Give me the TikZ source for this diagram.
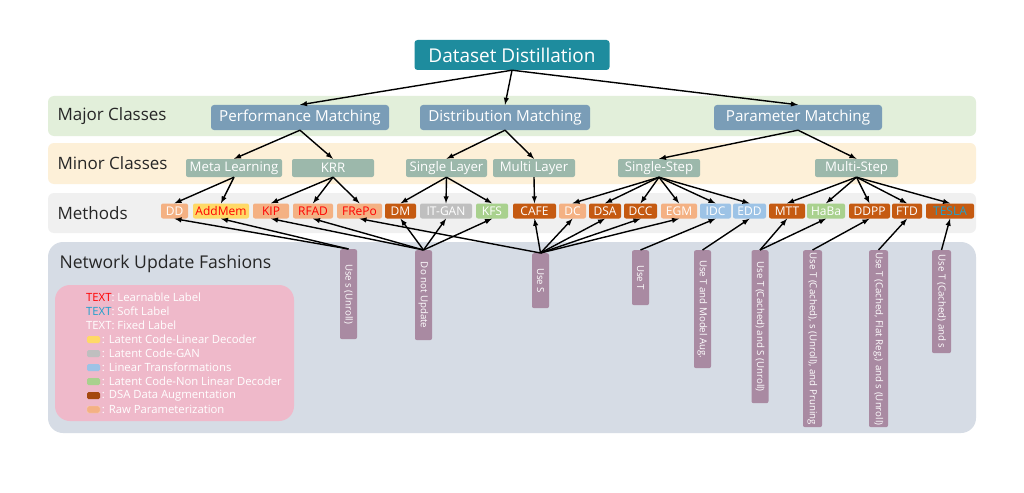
\documentclass[tikz,border=0pt]{standalone}
\usepackage{fontspec}
\setmainfont{Open Sans}
\usetikzlibrary{positioning, arrows}

\definecolor{rootc}{HTML}{1E8C9E}
\definecolor{majorc}{HTML}{7A9DB7}
\definecolor{minorc}{HTML}{9CB8AB}
\definecolor{bandgreen}{HTML}{E2EFDA}
\definecolor{bandorange}{HTML}{FDF0D8}
\definecolor{bandgrey}{HTML}{F0F0F0}
\definecolor{bandblue}{HTML}{D6DCE5}
\definecolor{peach}{HTML}{F4B183}
\definecolor{darkor}{HTML}{C55A11}
\definecolor{brownc}{HTML}{A5470F}
\definecolor{greyc}{HTML}{BFBFBF}
\definecolor{greenc}{HTML}{A9D18E}
\definecolor{bluec}{HTML}{9DC3E6}
\definecolor{yellowc}{HTML}{FFD966}
\definecolor{redc}{HTML}{FF0000}
\definecolor{softc}{HTML}{1FA0CC}
\definecolor{mauve}{HTML}{A98AA2}
\definecolor{pinkc}{HTML}{EFB9CA}
\definecolor{labelc}{HTML}{262626}

\begin{document}
\begin{tikzpicture}[x=1pt, y=-1pt, >=latex,
    root/.style={fill=rootc, text=white, rounded corners=3pt, minimum width=195pt, minimum height=30pt, font=\fontsize{19}{20}\selectfont},
    major/.style={fill=majorc, text=white, rounded corners=3pt, minimum height=25pt, font=\fontsize{15.2}{16}\selectfont},
    minor/.style={fill=minorc, text=white, rounded corners=2pt, minimum height=18pt, inner sep=0pt, font=\fontsize{13.2}{14}\selectfont},
    mth/.style={rounded corners=2pt, minimum height=15pt, inner sep=0pt, text=white, font=\fontsize{12}{13}\selectfont},
    fash/.style={fill=mauve, text=white, rounded corners=2pt, rotate=-90, anchor=west, minimum height=17pt, inner sep=0pt, font=\fontsize{9.7}{10}\selectfont},
    rowlbl/.style={anchor=west, text=labelc, font=\fontsize{17}{18}\selectfont},
    legtxt/.style={anchor=west, text=white, inner sep=0pt, font=\fontsize{11.3}{12}\selectfont},
    swatch/.style={rounded corners=1.5pt, minimum width=13pt, minimum height=7pt, inner sep=0pt},
    link/.style={->, line width=1.4pt}]

\fill[white] (0,0) rectangle (1024,492);

% bands
\fill[bandgreen, rounded corners=6pt] (48,96) rectangle (976,136);
\fill[bandorange, rounded corners=6pt] (48,143) rectangle (976,184);
\fill[bandgrey, rounded corners=6pt] (48,193) rectangle (976,233);
\fill[bandblue, rounded corners=15pt] (48,242) rectangle (976,433);
\fill[pinkc, rounded corners=15pt] (55,285) rectangle (294,421);

\node[rowlbl] (majlbl) at (54,116) {Major Classes};
\node[rowlbl] (minlbl) at (54,163) {Minor Classes};
\node[rowlbl] (methlbl) at (54,213) {Methods};
\node[rowlbl, font=\fontsize{17.6}{18}\selectfont] (netlbl) at (56,264) {Network Update Fashions};

% tree
\node[root] (ds) at (512,55) {Dataset Distillation};
\node[major, minimum width=178pt] (pm) at (300,117.5) {Performance Matching};
\node[major, minimum width=170pt] (dm) at (505,117.5) {Distribution Matching};
\node[major, minimum width=168pt] (prm) at (798,117.5) {Parameter Matching};

\node[minor, minimum width=96pt] (ml) at (234,168) {Meta Learning};
\node[minor, minimum width=82pt] (krr) at (333,168) {KRR};
\node[minor, minimum width=81pt] (sl) at (446.5,168) {Single Layer};
\node[minor, minimum width=82pt] (mlay) at (534,168) {Multi Layer};
\node[minor, minimum width=82pt] (ss) at (659,168) {Single-Step};
\node[minor, minimum width=83pt] (mst) at (856.5,168) {Multi-Step};

% methods
\node[mth, fill=peach, minimum width=27pt] (dd) at (174.5,211) {DD};
\node[mth, fill=yellowc, text=redc, minimum width=56pt] (addmem) at (221,211) {AddMem};
\node[mth, fill=peach, text=redc, minimum width=36pt] (kip) at (271,211) {KIP};
\node[mth, fill=peach, text=redc, minimum width=40pt] (rfad) at (313,211) {RFAD};
\node[mth, fill=peach, text=redc, minimum width=45pt] (frepo) at (359.5,211) {FRePo};
\node[mth, fill=darkor, minimum width=31pt] (dmm) at (400.5,211) {DM};
\node[mth, fill=greyc, minimum width=52pt] (itgan) at (446,211) {IT-GAN};
\node[mth, fill=greenc, minimum width=32pt] (kfs) at (492,211) {KFS};
\node[mth, fill=darkor, minimum width=43pt] (cafe) at (534.5,211) {CAFE};
\node[mth, fill=peach, minimum width=27pt] (dc) at (572.5,211) {DC};
\node[mth, fill=darkor, minimum width=32pt] (dsa) at (605,211) {DSA};
\node[mth, fill=darkor, minimum width=33pt] (dcc) at (640.5,211) {DCC};
\node[mth, fill=peach, minimum width=36pt] (egm) at (679,211) {EGM};
\node[mth, fill=bluec, minimum width=31pt] (idc) at (715.5,211) {IDC};
\node[mth, fill=bluec, minimum width=33pt] (edd) at (749.5,211) {EDD};
\node[mth, fill=darkor, minimum width=36pt] (mtt) at (787,211) {MTT};
\node[mth, fill=greenc, minimum width=38pt] (haba) at (826,211) {HaBa};
\node[mth, fill=darkor, minimum width=41pt] (ddpp) at (869.5,211) {DDPP};
\node[mth, fill=darkor, minimum width=30pt] (ftd) at (907,211) {FTD};
\node[mth, fill=darkor, text=softc, minimum width=48pt] (tesla) at (950,211) {TESLA};

% network update fashions
\node[fash, minimum width=90pt] (f1) at (348.5,249) {Use s (Unroll)};
\node[fash, minimum width=90pt] (f2) at (423.5,250) {Do not Update};
\node[fash, minimum width=55pt] (f3) at (540.5,253) {Use S};
\node[fash, minimum width=55pt] (f4) at (640.5,250) {Use T};
\node[fash, minimum width=118pt] (f5) at (702.5,250) {Use T and Model Aug.};
\node[fash, minimum width=153pt] (f6) at (760,250) {Use T (Cached) and S (Unroll)};
\node[fash, minimum width=177pt, minimum height=19pt] (f7) at (812.5,250) {Use T (Cached), s (Unroll), and Pruning};
\node[fash, minimum width=177pt, minimum height=19pt] (f8) at (878.5,250) {Use T (Cached, Flat Reg.) and s (Unroll)};
\node[fash, minimum width=103pt, minimum height=19pt] (f9) at (941.5,250) {Use T (Cached) and s};

% legend
\node[legtxt] (lg1) at (86,297) {\textcolor{redc}{TEXT}: Learnable Label};
\node[legtxt] (lg2) at (86,311) {\textcolor{softc}{TEXT}: Soft Label};
\node[legtxt] (lg3) at (86,325) {TEXT: Fixed Label};
\node[swatch, fill=yellowc] (sw1) at (93.5,339.5) {};
\node[swatch, fill=greyc] (sw2) at (93.5,353.5) {};
\node[swatch, fill=bluec] (sw3) at (93.5,367.5) {};
\node[swatch, fill=greenc] (sw4) at (93.5,381.5) {};
\node[swatch, fill=brownc] (sw5) at (93.5,395.5) {};
\node[swatch, fill=peach, draw=peach!60!white] (sw6) at (93.5,409.5) {};
\node[legtxt, right=1.5pt of sw1] (lg4) {: Latent Code-Linear Decoder};
\node[legtxt, right=1.5pt of sw2] (lg5) {: Latent Code-GAN};
\node[legtxt, right=1.5pt of sw3] (lg6) {: Linear Transformations};
\node[legtxt, right=1.5pt of sw4] (lg7) {: Latent Code-Non Linear Decoder};
\node[legtxt, right=1.5pt of sw5] (lg8) {: DSA Data Augmentation};
\node[legtxt, right=1.5pt of sw6] (lg9) {: Raw Parameterization};

% tree links
\draw[link] (ds.south) -- (pm.north);
\draw[link] (ds.south) -- (dm.north);
\draw[link] (ds.south) -- (prm.north);
\draw[link] (pm.south) -- (ml.north);
\draw[link] (pm.south) -- (krr.north);
\draw[link] (dm.south) -- (sl.north);
\draw[link] (dm.south) -- (mlay.north);
\draw[link] (prm.south) -- (ss.north);
\draw[link] (prm.south) -- (mst.north);

\draw[link] (ml.south) -- (dd.north);
\draw[link] (ml.south) -- (addmem.north);
\draw[link] (krr.south) -- (kip.north);
\draw[link] (krr.south) -- (rfad.north);
\draw[link] (krr.south) -- (frepo.north);
\draw[link] (sl.south) -- (dmm.north);
\draw[link] (sl.south) -- (itgan.north);
\draw[link] (sl.south) -- (kfs.north);
\draw[link] (mlay.south) -- (cafe.north);
\draw[link] (ss.south) -- (dc.north);
\draw[link] (ss.south) -- (dsa.north);
\draw[link] (ss.south) -- (dcc.north);
\draw[link] (ss.south) -- (egm.north);
\draw[link] (ss.south) -- (idc.north);
\draw[link] (ss.south) -- (edd.north);
\draw[link] (mst.south) -- (mtt.north);
\draw[link] (mst.south) -- (haba.north);
\draw[link] (mst.south) -- (ddpp.north);
\draw[link] (mst.south) -- (ftd.north);
\draw[link] (mst.south) -- (tesla.north);

% fashion links
\draw[link] (f1.west) -- (dd.south);
\draw[link] (f1.west) -- (addmem.south);
\draw[link] (f2.west) -- (kip.south);
\draw[link] (f2.west) -- (rfad.south);
\draw[link] (f2.west) -- (dmm.south);
\draw[link] (f2.west) -- (itgan.south);
\draw[link] (f2.west) -- (kfs.south);
\draw[link] (f3.west) -- (frepo.south);
\draw[link] (f3.west) -- (cafe.south);
\draw[link] (f3.west) -- (dc.south);
\draw[link] (f3.west) -- (dsa.south);
\draw[link] (f3.west) -- (dcc.south);
\draw[link] (f3.west) -- (egm.south);
\draw[link] (f4.west) -- (idc.south);
\draw[link] (f5.west) -- (edd.south);
\draw[link] (f6.west) -- (mtt.south);
\draw[link] (f6.west) -- (haba.south);
\draw[link] (f7.west) -- (ddpp.south);
\draw[link] (f8.west) -- (ftd.south);
\draw[link] (f9.west) -- (tesla.south);
\end{tikzpicture}
\end{document}
